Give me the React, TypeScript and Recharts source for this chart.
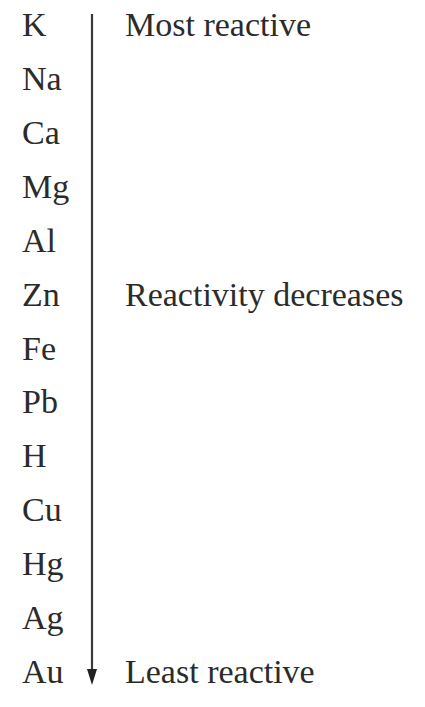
import React from 'react';
import { ComposedChart, Line, XAxis, YAxis, ReferenceLine, LabelList } from 'recharts';

const ELEMENTS = ['K', 'Na', 'Ca', 'Mg', 'Al', 'Zn', 'Fe', 'Pb', 'H', 'Cu', 'Hg', 'Ag', 'Au'];
const NOTE_ELEMENTS = ['K', 'Zn', 'Au'];
const NOTE_TEXTS = ['Most reactive', 'Reactivity decreases', 'Least reactive'];

const rows = ELEMENTS.map((el) => {
  const i = NOTE_ELEMENTS.indexOf(el);
  return { el, note: i >= 0 ? NOTE_TEXTS[i] : '' };
});

const W = 425;
const H = 707;
const AXIS_W = 80;
const ARROW_X = 12; // x-axis units (plot starts after the y-axis)
const NOTE_X = 45;
const FONT = '"Liberation Serif", "Times New Roman", serif';
const INK = '#2b2b2b';
const textStyle = { fontFamily: FONT, fontSize: 34 };

const ElementTick = (props: any) => {
  const { y, payload } = props;
  return (
    <text x={22} y={y + 10} textAnchor="start" style={textStyle} fill={INK}>
      {payload.value}
    </text>
  );
};

const NoteLabel = (props: any) => {
  const { x, y, value } = props;
  if (!value) return null;
  return (
    <text x={x} y={y + 10} textAnchor="start" style={textStyle} fill={INK}>
      {value}
    </text>
  );
};

const Arrow = (props: any) => {
  const { x1, y1, y2 } = props;
  const top = Math.min(y1, y2);
  const bottom = Math.max(y1, y2);
  return (
    <g>
      <line x1={x1} y1={top} x2={x1} y2={bottom - 12} stroke="#3a3a3a" strokeWidth={2.2} />
      <polygon
        points={`${x1 - 5},${bottom - 16} ${x1 + 5},${bottom - 16} ${x1},${bottom}`}
        fill="#222"
      />
    </g>
  );
};

export default function App() {
  return (
    <div style={{ width: W, height: H, background: '#fff' }}>
      <style>{`body{margin:0}`}</style>
      <ComposedChart
        width={W}
        height={H}
        data={rows}
        layout="vertical"
        margin={{ top: 14, right: 0, bottom: 22, left: 0 }}
      >
        <XAxis type="number" domain={[0, W - AXIS_W]} hide />
        <YAxis
          type="category"
          dataKey="el"
          scale="point"
          width={AXIS_W}
          padding={{ top: 12, bottom: 12 }}
          axisLine={false}
          tickLine={false}
          interval={0}
          tick={<ElementTick />}
        />
        <ReferenceLine x={ARROW_X} shape={<Arrow />} />
        <Line
          dataKey={() => NOTE_X}
          stroke="none"
          dot={false}
          activeDot={false}
          isAnimationActive={false}
        >
          <LabelList dataKey="note" content={<NoteLabel />} />
        </Line>
      </ComposedChart>
    </div>
  );
}
